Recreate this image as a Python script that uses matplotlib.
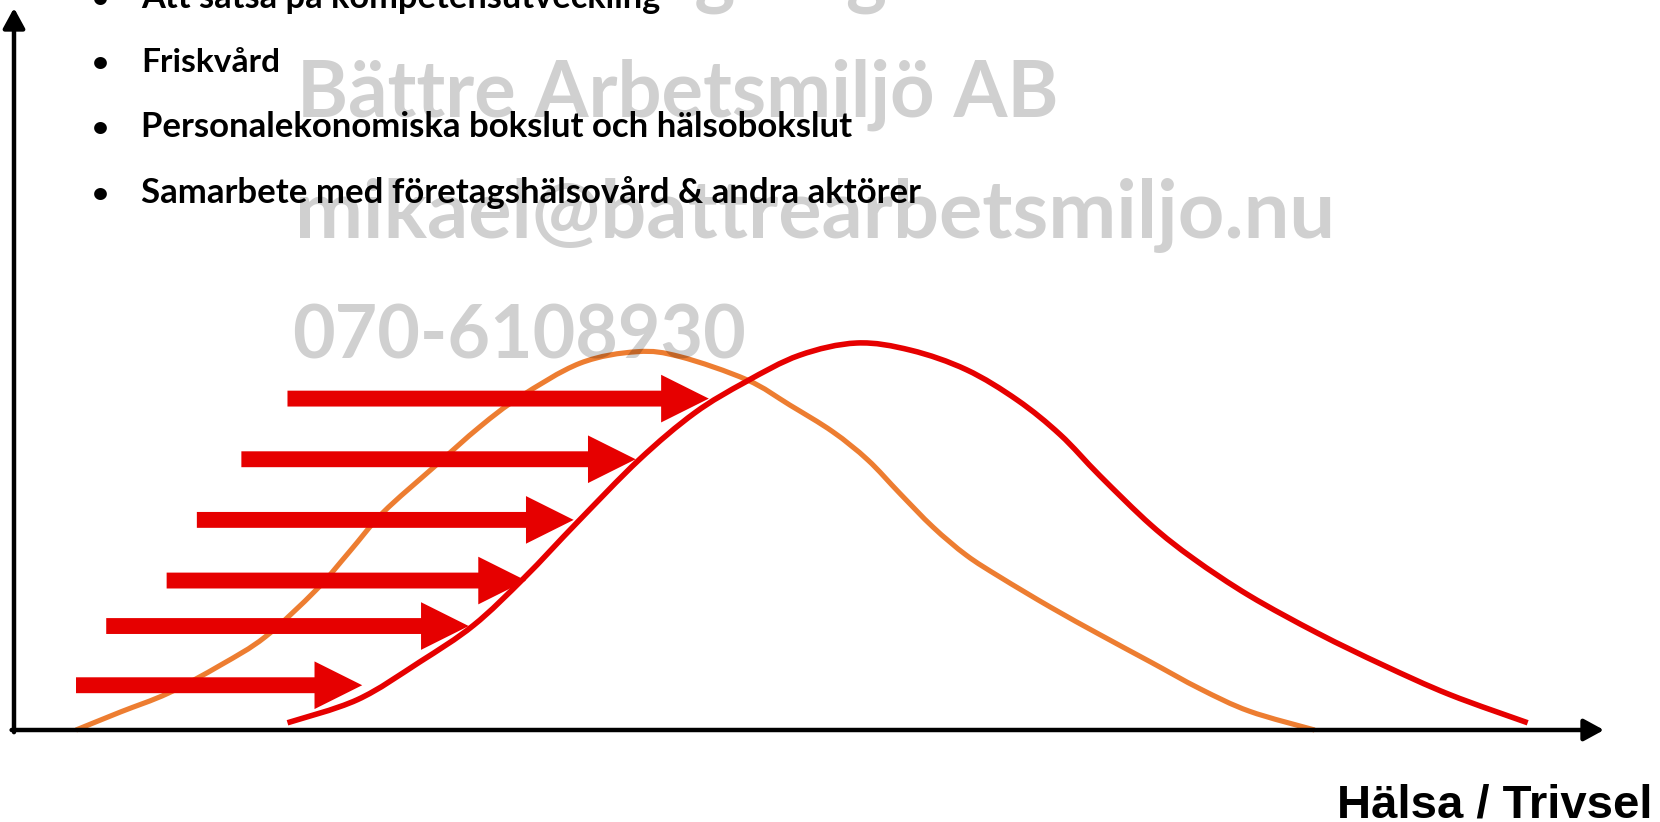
import matplotlib
matplotlib.use("Agg")
import numpy as np
import matplotlib.pyplot as plt
from matplotlib.patches import FancyArrow, PathPatch
from matplotlib.path import Path

# curves: x = Hälsa / Trivsel (0-100 along the axis), y = height (0-100)
before_x = [3.9, 6.7, 9.7, 13.0, 15.8, 19.0, 21.1, 23.2, 26.4, 29.3, 31.8, 35.6,
            39.2, 41.9, 46.1, 48.8, 51.5, 53.7, 55.7, 57.8, 59.9, 62.0, 65.2,
            68.3, 71.5, 74.6, 77.7, 81.8]
before_y = [0.0, 2.5, 5.1, 9.0, 12.9, 19.4, 24.7, 30.1, 36.4, 42.0, 46.1, 50.8,
            52.4, 51.7, 48.5, 45.0, 41.3, 37.4, 32.8, 28.1, 24.2, 21.2, 17.0,
            13.2, 9.4, 5.7, 2.6, 0.0]
after_x = [17.2, 21.6, 25.5, 28.9, 32.1, 35.4, 39.3, 42.8, 46.0, 49.4, 53.0, 56.4,
           59.9, 63.1, 65.8, 68.3, 71.5, 74.2, 77.7, 82.0, 86.1, 90.3, 95.2]
after_y = [1.0, 4.2, 9.4, 14.5, 21.1, 28.7, 37.4, 43.9, 48.2, 51.9, 53.6, 52.6,
           49.9, 45.7, 40.9, 35.2, 28.4, 23.7, 18.6, 13.4, 9.0, 4.9, 1.0]

# the six "shift" arrows
arrow_start = [3.9, 5.8, 9.6, 11.5, 14.3, 17.2]
arrow_end = [21.9, 28.6, 32.2, 35.2, 39.1, 43.7]
arrow_level = [6.2, 14.4, 20.7, 29.1, 37.5, 45.9]

bullets = ["Att satsa på kompetensutveckling",
           "Friskvård",
           "Personalekonomiska bokslut och hälsobokslut",
           "Samarbete med företagshälsovård & andra aktörer"]
bullet_end = [660, 280, 852, 922]
bullet_base = [8, 72, 137, 203]

watermark = ["Mikael Berg Org", "Bättre Arbetsmiljö AB",
             "mikael@battrearbetsmiljo.nu", "070-6108930"]
wm_start = [None, 297, 295, 292]
wm_end = [887, 1058, 1336, 747]
wm_base = [-1, 117, 238, 358]

ORANGE = "#ED7D31"
RED = "#E60000"

W, H = 1660, 822
fig = plt.figure(figsize=(W / 100, H / 100), dpi=100)
ax = fig.add_axes([14 / W, (H - 730) / H, 1590 / W, 722 / H])
ax.set_xlim(0, 100)
ax.set_ylim(0, 100)
ax.axis("off")


def smooth_curve(xs, ys, color, lw):
    # catmull-rom through the read points, drawn as bezier path
    pts = np.column_stack([xs, ys])
    n = len(pts)
    verts = [pts[0]]
    codes = [Path.MOVETO]
    for i in range(n - 1):
        p0 = pts[i - 1] if i > 0 else pts[i]
        p1, p2 = pts[i], pts[i + 1]
        p3 = pts[i + 2] if i + 2 < n else pts[i + 1]
        verts += [p1 + (p2 - p0) / 6, p2 - (p3 - p1) / 6, p2]
        codes += [Path.CURVE4] * 3
    ax.add_patch(PathPatch(Path(verts, codes), fill=False, edgecolor=color,
                           lw=lw, capstyle="butt", clip_on=False, zorder=2))


smooth_curve(before_x, before_y, ORANGE, 3.7)
smooth_curve(after_x, after_y, RED, 4.0)

for x0, x1, y in zip(arrow_start, arrow_end, arrow_level):
    ax.add_patch(FancyArrow(x0, y, x1 - x0, 0, width=2.2, head_width=6.6,
                            head_length=3.0, length_includes_head=True,
                            color=RED, lw=0, zorder=3))

# axes with arrow heads
ap = dict(arrowstyle="-|>,head_length=0.55,head_width=0.3", color="black",
          lw=3.2, shrinkA=0, shrinkB=0, mutation_scale=22)
ax.annotate("", xy=(100, 0), xytext=(-0.15, 0), arrowprops=ap,
            annotation_clip=False)
ax.annotate("", xy=(0, 100), xytext=(0, -0.3), arrowprops=ap,
            annotation_clip=False)

renderer = fig.canvas.get_renderer()


def fit_text(txt, x0, x1, base, **kw):
    t = fig.text(x0 / W, 1 - base / H, txt, fontsize=20, va="baseline", **kw)
    w = t.get_window_extent(renderer).width
    t.set_fontsize(20 * (x1 - x0) / w)
    return t


for txt, x1, yb in zip(bullets, bullet_end, bullet_base):
    fit_text(txt, 141, x1, yb, family="Lato", weight="bold", color="black",
             zorder=4)
    fig.text(92 / W, 1 - yb / H, "•", fontsize=21, family="Lato",
             weight="bold", va="baseline", zorder=4)

wm_size = None
for txt, x0, x1, yb in zip(watermark, wm_start, wm_end, wm_base):
    if x0 is None:
        continue
    t = fit_text(txt, x0, x1, yb, family="Lato", weight="bold",
                 color="black", alpha=0.185, zorder=5)
    if wm_size is None:
        wm_size = t.get_fontsize()

# top line, cut off by the slide edge
fig.text(wm_end[0] / W, 1 - wm_base[0] / H, watermark[0], fontsize=wm_size,
         ha="right", va="baseline", family="Lato", weight="bold",
         color="black", alpha=0.185, zorder=5)

fit_text("Hälsa / Trivsel", 1337, 1652, 817, family="Liberation Sans",
         weight="bold", color="black")

fig.savefig("out.png", dpi=100)
